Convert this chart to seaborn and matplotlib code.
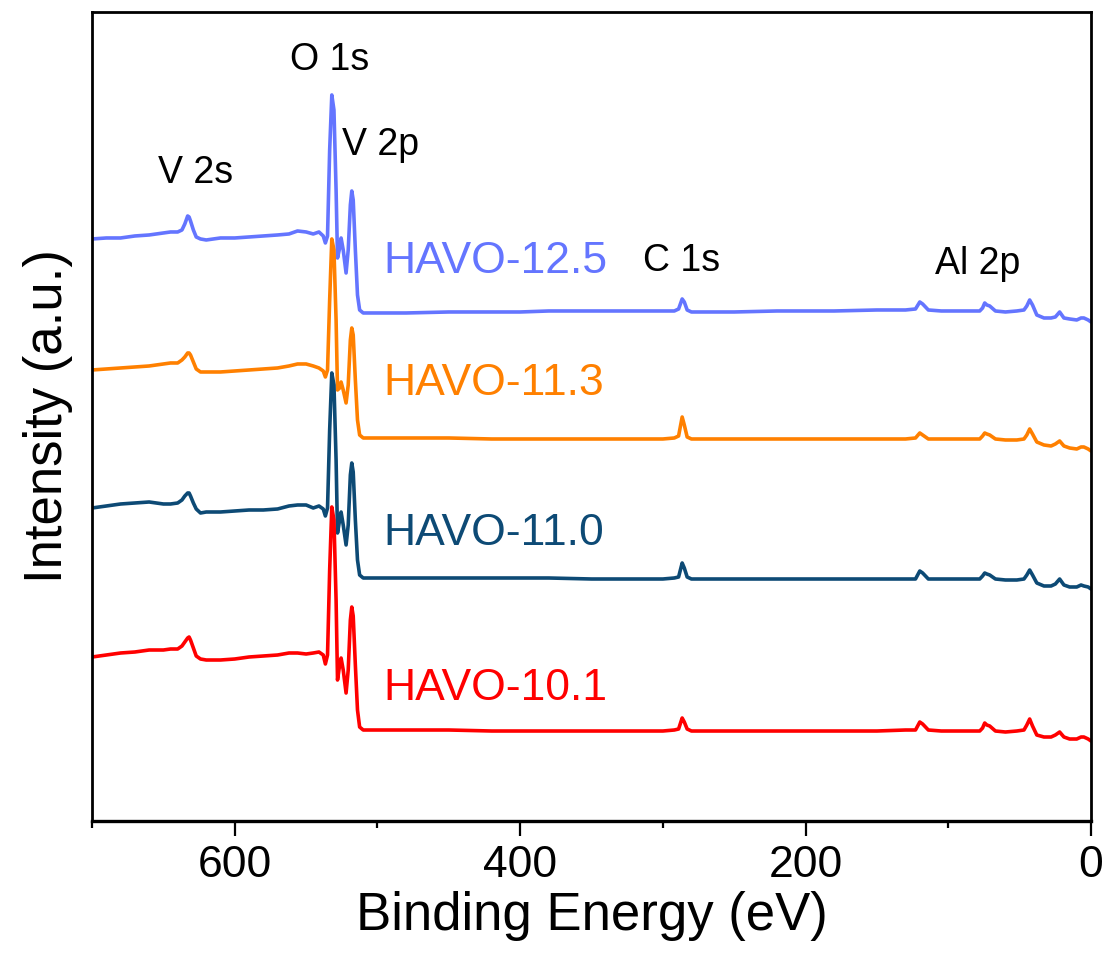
import numpy as np
import pandas as pd
import matplotlib
matplotlib.use("Agg")
import matplotlib.pyplot as plt
import seaborn as sns

# ---------------- data ----------------
energy = [700, 690, 680, 670, 660, 650, 645, 640, 637, 635, 633, 632, 631, 629, 627, 624, 620,
          610, 600, 590, 580, 570, 562, 556, 550, 545, 541, 538, 536.5, 535, 533.5, 532, 530.5,
          529, 528, 526.5, 525.5, 524, 522, 520.5, 519, 518, 517, 515.5, 514, 512.5, 510,
          500, 480, 450, 420, 400, 380, 350, 320, 300, 292, 289, 286.5, 285, 283, 280, 270,
          250, 220, 200, 180, 150, 130, 123, 120, 118, 114, 105, 95, 85, 78, 76, 74.5, 73,
          71, 67, 60, 52, 47, 45, 43, 41, 38, 33, 28, 25, 22, 19, 15, 10, 7, 5, 2, 0]

# plotted (offset) intensities, arbitrary units
havo_125 = [582, 583, 583, 585, 586, 588, 589, 589, 591, 597, 605, 604, 600, 591, 584, 582, 581,
            583, 583, 584, 585, 586, 587, 590, 589, 587, 589, 585, 578, 585, 671, 726, 711,
            631, 563, 573, 583, 571, 548, 571, 616, 630, 621, 571, 526, 511, 508,
            508, 508, 509, 509, 509, 510, 510, 510, 510, 510, 512, 522, 519, 511, 509, 509,
            509, 510, 510, 510, 511, 511, 512, 519, 517, 511, 510, 510, 510, 510, 513, 518, 516,
            515, 510, 509, 510, 511, 515, 521, 516, 506, 503, 503, 504, 509, 503, 502, 501, 503, 503, 501, 499]

havo_113 = [451, 452, 453, 454, 455, 457, 458, 458, 461, 464, 468, 468, 466, 459, 452, 449, 449,
            449, 450, 451, 452, 453, 455, 457, 457, 455, 453, 450, 444, 451, 521, 582, 571,
            501, 431, 433, 439, 431, 418, 436, 481, 493, 486, 441, 401, 386, 383,
            383, 383, 383, 382, 382, 382, 382, 382, 382, 383, 385, 404, 396, 384, 382, 382,
            382, 382, 382, 382, 382, 382, 383, 388, 386, 382, 382, 382, 382, 382, 385, 388, 387,
            386, 382, 381, 381, 382, 386, 392, 387, 379, 376, 375, 377, 380, 375, 373, 372, 374, 374, 372, 370]

havo_110 = [313, 315, 317, 318, 319, 317, 317, 318, 321, 325, 328, 328, 325, 318, 312, 308, 309,
            309, 310, 311, 311, 312, 315, 316, 316, 313, 315, 312, 305, 313, 391, 448, 436,
            361, 288, 301, 309, 296, 276, 296, 346, 358, 349, 301, 261, 246, 243,
            243, 243, 243, 243, 243, 243, 242, 242, 242, 243, 244, 258, 253, 244, 242, 242,
            242, 242, 242, 242, 242, 242, 242, 250, 248, 242, 242, 242, 242, 242, 245, 248, 247,
            246, 242, 241, 241, 242, 246, 251, 246, 238, 235, 235, 237, 242, 236, 234, 234, 236, 235, 234, 232]

havo_101 = [164, 166, 168, 169, 171, 171, 172, 172, 175, 179, 183, 184, 181, 173, 165, 162, 161,
            161, 162, 164, 165, 166, 168, 168, 167, 168, 169, 166, 157, 166, 251, 314, 301,
            221, 141, 156, 163, 151, 128, 151, 201, 214, 205, 156, 111, 94, 91,
            91, 91, 91, 90, 90, 90, 90, 90, 90, 91, 92, 103, 99, 92, 90, 90,
            90, 90, 90, 90, 90, 91, 91, 99, 97, 91, 90, 90, 90, 90, 93, 98, 96,
            95, 90, 89, 90, 91, 96, 102, 95, 86, 84, 84, 86, 89, 84, 82, 82, 84, 84, 82, 80]

samples = ["HAVO-12.5", "HAVO-11.3", "HAVO-11.0", "HAVO-10.1"]
colors = ["#6475FF", "#FF8000", "#0D4A75", "#FF0000"]
peak_labels = ["O 1s", "V 2s", "V 2p", "C 1s", "Al 2p"]
xticks = [600, 400, 200, 0]

# ---------------- figure ----------------
sns.set_theme(style="white")
plt.rcParams["font.family"] = ["Liberation Sans", "DejaVu Sans"]

df = pd.concat([
    pd.DataFrame({"energy": energy, "intensity": vals, "sample": name})
    for name, vals in zip(samples, [havo_125, havo_113, havo_110, havo_101])
], ignore_index=True)

fig = plt.figure(figsize=(11.09, 9.57), dpi=100)
ax = fig.add_axes([0.083, 0.1421, 0.9008, 0.8454])

sns.lineplot(data=df, x="energy", y="intensity", hue="sample", hue_order=samples,
             palette=colors, estimator=None, sort=False, linewidth=2.6, legend=False, ax=ax)

ax.set_xlim(700, 0)
ax.set_ylim(0, 809)
ax.set_xticks(xticks)
ax.set_xticks([700, 500, 300, 100], minor=True)
ax.set_yticks([])
ax.tick_params(axis="x", which="major", direction="out", length=11, width=1.6,
               labelsize=32, pad=6, color="black", labelcolor="black", bottom=True)
ax.tick_params(axis="x", which="minor", direction="out", length=5, width=1.6,
               color="black", bottom=True)
for side in ["left", "right", "top", "bottom"]:
    ax.spines[side].set_visible(True)
    ax.spines[side].set_color("black")
    ax.spines[side].set_linewidth(2.0)
ax.spines["bottom"].set_linewidth(2.4)

ax.set_xlabel("Binding Energy (eV)", fontsize=38, labelpad=4, color="black")
ax.set_ylabel("Intensity (a.u.)", fontsize=38, labelpad=14, color="black")

# peak labels
peak_pos = [(533.2, 751, "center"), (653.8, 638, "left"), (524.8, 666, "left"),
            (313.9, 550, "left"), (109.3, 547, "left")]
for lab, (x, y, ha) in zip(peak_labels, peak_pos):
    ax.text(x, y, lab, fontsize=27, ha=ha, va="baseline", color="black")

# sample labels
sample_y = [548, 426, 276, 121]
for name, c, y in zip(samples, colors, sample_y):
    ax.text(496.1, y, name, fontsize=32, ha="left", va="baseline", color=c)

fig.savefig("out.png", dpi=100)
